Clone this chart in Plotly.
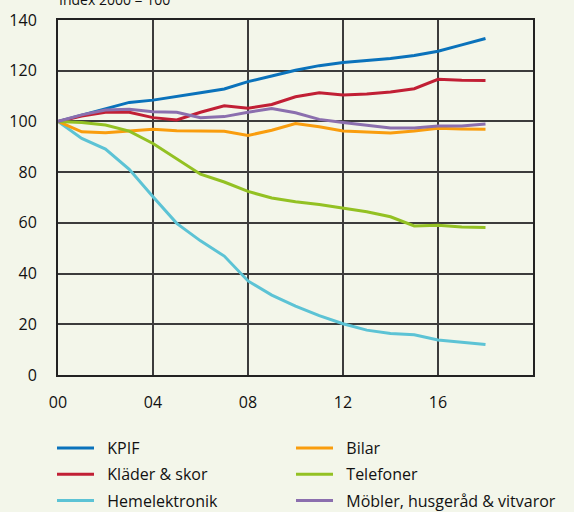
import plotly.graph_objects as go

years = list(range(0, 19))
kpif = [100, 102.5, 105.2, 107.5, 108.4, 109.7, 111.3, 112.8, 115.7, 117.9, 120.2, 122.0, 123.2, 124.0, 124.8, 126.0, 127.7, 130.2, 132.7]
klader = [100, 102.1, 103.6, 103.6, 101.5, 100.6, 103.6, 106.2, 105.2, 106.7, 109.7, 111.3, 110.4, 110.8, 111.6, 112.9, 116.6, 116.2, 116.1]
hemelektronik = [100, 93.3, 89.1, 81.1, 70.3, 59.8, 52.9, 46.9, 37.1, 31.5, 27.2, 23.4, 20.2, 17.7, 16.4, 15.9, 13.8, 12.9, 12.0]
bilar = [100, 95.9, 95.5, 96.2, 96.9, 96.3, 96.3, 96.1, 94.5, 96.5, 99.2, 97.9, 96.2, 95.9, 95.4, 96.2, 97.3, 97.0, 96.9]
telefoner = [100, 99.6, 98.6, 96.2, 91.3, 85.3, 79.2, 76.1, 72.4, 69.8, 68.3, 67.2, 65.9, 64.4, 62.4, 58.8, 59.1, 58.4, 58.2]
mobler = [100, 102.6, 104.5, 104.8, 103.8, 103.6, 101.5, 101.9, 103.6, 105.1, 103.4, 100.8, 99.6, 98.4, 97.4, 97.4, 98.2, 98.2, 99.0]

x_tickvals = [0, 4, 8, 12, 16]
x_ticktext = ["00", "04", "08", "12", "16"]
y_tickvals = [0, 20, 40, 60, 80, 100, 120, 140]

# (name, values, colour, legend column)
series = [
    ("KPIF", kpif, "#0a72bb", "legend"),
    ("Kläder & skor", klader, "#c11f35", "legend"),
    ("Hemelektronik", hemelektronik, "#5cc3d5", "legend"),
    ("Bilar", bilar, "#f99d0e", "legend2"),
    ("Telefoner", telefoner, "#93c123", "legend2"),
    ("Möbler, husgeråd & vitvaror", mobler, "#8b6fae", "legend2"),
]

fig = go.Figure()
for i, (name, vals, col, leg) in enumerate(series):
    fig.add_trace(go.Scatter(
        x=years, y=vals, name="  " + name, mode="lines",
        line=dict(color=col, width=3),
        legend=leg, legendgroup="g%d" % i, legendrank=i + 1,
    ))

bg = "#f3f6ea"
font = "Open Sans, Noto Sans, sans-serif"
leg_common = dict(
    orientation="v", yanchor="top", xanchor="left",
    bgcolor="rgba(0,0,0,0)", font=dict(size=16, family=font),
    itemwidth=37, tracegroupgap=2.5, traceorder="grouped",
)
fig.update_layout(
    width=574, height=512,
    paper_bgcolor=bg, plot_bgcolor=bg,
    margin=dict(l=58, r=41, t=20, b=137, autoexpand=False),
    font=dict(family=font, size=16, color="#111"),
    xaxis=dict(
        range=[0, 20], tickvals=x_tickvals, ticktext=x_ticktext,
        showgrid=True, gridcolor="#3c3c3c", gridwidth=1.5,
        showline=True, linecolor="#222", linewidth=2, mirror=True,
        ticks="", zeroline=False, ticklabelstandoff=12,
        tickfont=dict(size=16),
    ),
    yaxis=dict(
        range=[0, 140], tickvals=y_tickvals,
        showgrid=True, gridcolor="#3c3c3c", gridwidth=1.5,
        showline=True, linecolor="#222", linewidth=2, mirror=True,
        ticks="", zeroline=False, ticklabelstandoff=16,
        tickfont=dict(size=16),
    ),
    showlegend=True,
    legend=dict(x=(52 - 58) / 475, y=(375 - 431) / 355, **leg_common),
    legend2=dict(x=(291 - 58) / 475, y=(375 - 431) / 355, **leg_common),
    annotations=[dict(
        text="Index 2000 = 100", xref="paper", yref="paper",
        x=-1 / 475, y=1.0, xanchor="left", yanchor="middle", yshift=21,
        showarrow=False, font=dict(size=14, family=font),
    )],
)

fig.write_html("out.html", post_script="document.body.style.margin='0';",
               config={"displayModeBar": False})
